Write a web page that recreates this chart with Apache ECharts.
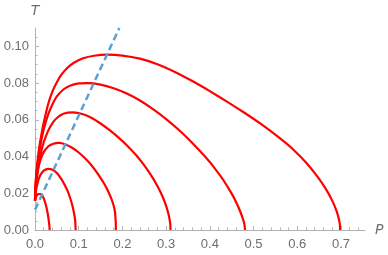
<!DOCTYPE html>
<html><head><meta charset="utf-8">
<script src="https://cdn.jsdelivr.net/npm/echarts@6/dist/echarts.min.js"></script>
<style>html,body{margin:0;padding:0;background:#fff}#c{width:388px;height:255px}</style>
</head><body><div id="c"></div>
<script>
// Curves (P, T)
const c1P = [0, 0.001, 0.003, 0.006, 0.01, 0.015, 0.02, 0.03, 0.04, 0.05, 0.06, 0.075, 0.09, 0.11, 0.135, 0.165, 0.2, 0.24, 0.28, 0.32, 0.36, 0.40, 0.44, 0.48, 0.52, 0.56, 0.59, 0.62, 0.645, 0.665, 0.68, 0.69, 0.695, 0.6975, 0.698];
const c1T = [0.016, 0.024, 0.031, 0.038, 0.0455, 0.0525, 0.0585, 0.0685, 0.0755, 0.0805, 0.0845, 0.0885, 0.0912, 0.0935, 0.0949, 0.0955, 0.0950, 0.0933, 0.0903, 0.0861, 0.0811, 0.0756, 0.0698, 0.0637, 0.0572, 0.0500, 0.0440, 0.0368, 0.0295, 0.0225, 0.0160, 0.0103, 0.0062, 0.003, 0];
const c2P = [0, 0.001, 0.003, 0.006, 0.01, 0.015, 0.02, 0.03, 0.04, 0.05, 0.065, 0.08, 0.1, 0.12, 0.15, 0.18, 0.21, 0.24, 0.27, 0.30, 0.33, 0.36, 0.39, 0.41, 0.43, 0.45, 0.46, 0.47, 0.476, 0.479, 0.4805];
const c2T = [0.016, 0.023, 0.0295, 0.036, 0.0428, 0.0495, 0.0548, 0.0628, 0.0685, 0.0728, 0.0765, 0.0786, 0.0798, 0.0800, 0.0792, 0.0772, 0.0743, 0.0705, 0.0658, 0.0604, 0.0543, 0.0474, 0.0397, 0.0340, 0.0275, 0.0198, 0.0152, 0.0098, 0.0058, 0.0032, 0];
const c3P = [0, 0.001, 0.003, 0.006, 0.01, 0.015, 0.02, 0.03, 0.04, 0.05, 0.065, 0.087, 0.11, 0.13, 0.15, 0.17, 0.19, 0.21, 0.23, 0.25, 0.265, 0.28, 0.29, 0.298, 0.304, 0.308, 0.3095, 0.31];
const c3T = [0.016, 0.0215, 0.027, 0.0325, 0.038, 0.0435, 0.0478, 0.0540, 0.0582, 0.0610, 0.0633, 0.0640, 0.0630, 0.0610, 0.0580, 0.0545, 0.0506, 0.0462, 0.0411, 0.0352, 0.0300, 0.0240, 0.0192, 0.0145, 0.0100, 0.0057, 0.003, 0];
const c4P = [0, 0.001, 0.003, 0.0076, 0.012, 0.019, 0.03, 0.042, 0.055, 0.07, 0.085, 0.1, 0.115, 0.13, 0.145, 0.157, 0.167, 0.175, 0.18, 0.183, 0.1848, 0.185];
const c4T = [0.016, 0.0205, 0.0255, 0.0335, 0.0378, 0.0420, 0.0455, 0.0470, 0.0474, 0.0466, 0.0448, 0.0422, 0.0389, 0.0350, 0.0302, 0.0257, 0.0212, 0.0168, 0.0132, 0.0098, 0.004, 0];
const c5P = [0, 0.001, 0.003, 0.0076, 0.013, 0.02, 0.03, 0.04, 0.05, 0.06, 0.068, 0.075, 0.081, 0.086, 0.09, 0.092, 0.093];
const c5T = [0.016, 0.0193, 0.0225, 0.0272, 0.0302, 0.0323, 0.0333, 0.0328, 0.0310, 0.0278, 0.0245, 0.0210, 0.0170, 0.0128, 0.0083, 0.005, 0];
const c6P = [0, 0.002, 0.005, 0.009, 0.013, 0.017, 0.021, 0.025, 0.028, 0.0305, 0.032, 0.033, 0.0335];
const c6T = [0.016, 0.0178, 0.0190, 0.0196, 0.0196, 0.0186, 0.0166, 0.0135, 0.0103, 0.0068, 0.0042, 0.002, 0];
// Dashed line
const dashP = [0, 0.193];
const dashT = [0.011, 0.11];
// Tick labels
const xTicks = [0, 0.1, 0.2, 0.3, 0.4, 0.5, 0.6, 0.7];
const yTicks = [0, 0.02, 0.04, 0.06, 0.08, 0.10];

const curves = [[c1P,c1T],[c2P,c2T],[c3P,c3T],[c4P,c4T],[c5P,c5T],[c6P,c6T]];
const zip = (a,b) => a.map((v,i)=>[v,b[i]]);
const axisCol = '#b4b4b4', labCol = '#6e6e6e';
const series = curves.map(([p,t]) => ({
  type:'line', data: zip(p,t), showSymbol:false, smooth:0.2,
  lineStyle:{color:'#ff0000', width:2.2}, silent:true, z:3
}));
series.push({type:'line', data: zip(dashP,dashT), showSymbol:false,
  lineStyle:{color:'#5fa0d2', width:2.5, type:[7,4]}, silent:true, z:4});

const chart = echarts.init(document.getElementById('c'), null, {renderer:'canvas'});
chart.setOption({
  animation:false,
  grid:{left:35, right:23, top:28, bottom:25, containLabel:false},
  xAxis:{type:'value', min:0, max:0.755, interval:0.1,
    name:'P', nameLocation:'end', nameGap:10,
    nameTextStyle:{fontStyle:'italic', fontSize:14, color:labCol, fontFamily:'DejaVu Sans', verticalAlign:'middle'},
    axisLine:{show:true, lineStyle:{color:axisCol, width:1}},
    axisTick:{show:true, inside:true, length:4, lineStyle:{color:axisCol}, customValues:xTicks},
    minorTick:{show:true, splitNumber:5, length:2.5, lineStyle:{color:axisCol}},
    axisLabel:{customValues:xTicks, formatter:v=>v.toFixed(1), color:labCol, fontSize:13, fontFamily:'Liberation Sans', margin:8},
    splitLine:{show:false}},
  yAxis:{type:'value', min:0, max:0.11, interval:0.02,
    name:'T', nameLocation:'end', nameGap:10,
    nameTextStyle:{fontStyle:'italic', fontSize:14, color:labCol, fontFamily:'DejaVu Sans', align:'center'},
    axisLine:{show:true, lineStyle:{color:axisCol, width:1}},
    axisTick:{show:true, inside:true, length:4, lineStyle:{color:axisCol}, customValues:yTicks},
    minorTick:{show:true, splitNumber:4, length:2.5, lineStyle:{color:axisCol}},
    axisLabel:{customValues:yTicks, formatter:v=>v.toFixed(2), color:labCol, fontSize:13, fontFamily:'Liberation Sans', margin:6},
    splitLine:{show:false}},
  series
});
</script></body></html>
